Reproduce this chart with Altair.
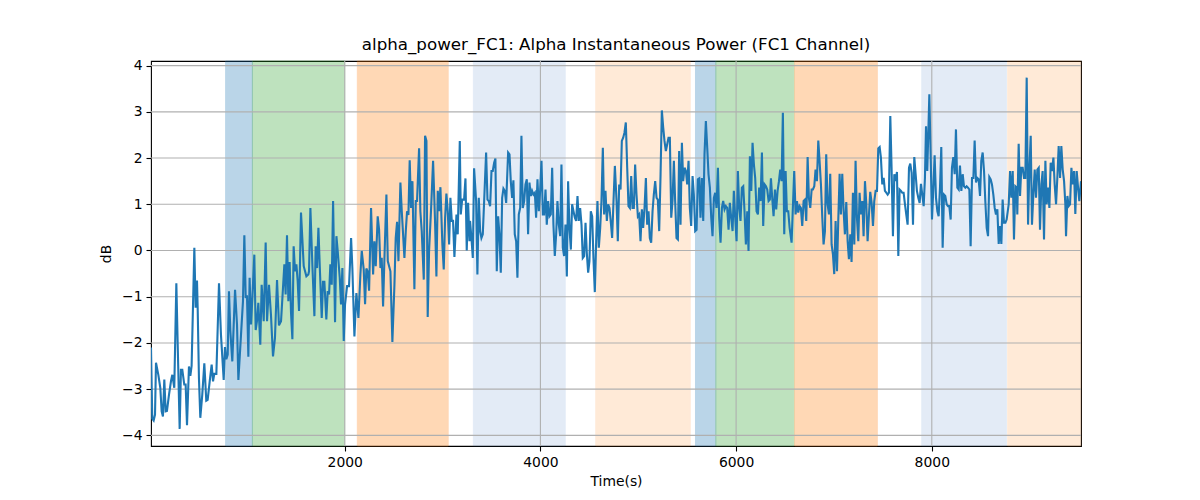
import altair as alt
import pandas as pd

# ---------------- data ----------------
t_seg1 = [20,33,47,61,71,95,115,129,142,156,170,183,204,224,238,258,279,292,313,326,
          340,360,374,388,408,422,435,463,476,490,497,510,524,544,565,585,599,620,640,654,
          667,688,715,735,763,776,790,804,817,831,851,879,899,913,940,960,974,988,1001,1015,
          1028,1042,1056,1076,1090,1103,1117,1137,1151,1172,1192,1206,1226,1246,1267,1287,1308,1328,1349,1369,
          1383,1396,1410,1424,1437,1451,1465,1478,1492,1506,1519,1533,1553,1581,1608,1628]
v_seg1 = [-2.1,-3.64,-3.68,-3.55,-2.43,-2.69,-2.97,-3.48,-3.59,-2.79,
          -3.48,-3.47,-3.12,-2.83,-2.69,-2.97,-0.71,-1.96,-3.86,-2.58,
          -2.58,-2.90,-2.90,-3.78,-2.51,-2.71,-2.50,0.06,-1.24,-0.65,
          -1.24,-2.76,-3.62,-3.12,-2.44,-3.25,-3.23,-2.83,-2.47,-2.83,
          -2.67,-2.67,-0.71,-1.82,-2.80,-2.09,-2.35,-2.25,-0.88,-1.75,
          -2.40,-0.85,-1.60,-2.80,-1.82,-1.10,0.33,-1.03,-0.97,-2.30,
          -0.59,-1.60,-1.03,-0.09,-1.72,-1.53,-1.13,-2.04,-0.74,-1.53,
          0.17,-1.53,-0.74,-1.39,-2.29,-1.89,-0.64,-1.62,-1.53,-0.81,
          -0.30,-0.95,0.33,-1.10,-0.25,-1.34,-1.92,0.09,-0.45,-0.30,
          -0.66,-1.31,0.82,-0.34,-0.56,-0.52]

t_seg2 = [1635,1649,1669,1690,1703,1717,1731,1744,1765,1778,
          1792,1812,1826,1840,1853,1867,1881,1901,1915,1928,
          1949,1962,1976,1990,2003,2024,2044,2065,2078,2099,
          2119,2140,2160,2174,2194,2208,2221,2235,2249,2269,
          2290,2303,2317,2337,2351,2365,2378,2392,2405,2426,
          2440,2467,2487,2508,2521,2535,2549,2569,2583,2610,
          2624,2637,2651,2664,2678,2692,2712,2726,2739,2760,
          2773,2787,2808,2821,2835,2848,2862,2883,2903,2923,
          2937,2951,2964,2978,2998,3012,3026,3039,3053,3067,
          3080,3094,3107,3121,3142,3155,3176]
v_seg2 = [-0.45,0.92,-0.30,-1.42,0.09,-0.38,0.49,-0.30,-1.46,-0.68,
          -0.68,-1.49,-0.88,-0.95,-0.30,-0.74,1.07,-1.55,0.31,-0.01,
          -0.59,-1.17,-0.38,-1.96,-1.17,-0.77,-0.77,0.27,-0.38,-1.86,
          -0.92,-1.46,-0.52,-0.01,-0.41,-1.16,-0.39,-0.46,-0.87,0.92,
          -0.52,0.20,-0.34,0.74,0.45,-0.38,-0.16,-1.21,-0.23,1.21,
          -0.23,-0.45,-1.98,-0.74,0.27,0.62,-0.23,1.47,0.85,-0.16,
          0.42,0.85,0.77,1.95,0.92,1.50,-0.84,1.07,1.07,2.21,
          0.85,0.42,-0.63,2.48,2.37,-1.44,-0.01,0.92,1.94,0.64,
          -0.56,1.29,0.85,1.37,0.13,-0.41,0.71,1.23,0.85,0.13,
          1.14,0.64,0.64,-0.14,0.78,0.35,2.37]

t_seg3 = [3186,3200,3220,3234,3247,3261,3275,3281,3295,3309,
          3322,3343,3356,3370,3384,3397,3411,3425,3445,3459,
          3472,3486,3500,3513,3527,3540,3554,3568,3581,3595,
          3609,3622,3636,3650,3670,3684,3697,3711,3724,3738,
          3752,3765,3779,3793,3806,3820,3834,3847,3861,3874,
          3888,3902,3915,3929,3943,3956,3970,3984,3997,4011,
          4025,4038,4052,4065,4079,4093,4106,4120,4133,4147,
          4161,4174,4188,4202,4215,4229,4242,4256,4270,4283,
          4297,4311,4324,4338,4352,4365,4379,4392,4406,4420,
          4433,4447,4461,4474,4488,4501,4515,4529,4542,4556,
          4570,4583,4597,4611,4624,4638,4651,4665,4679,4692,
          4706,4720,4733,4747,4761]
v_seg3 = [0.78,1.10,1.10,1.56,0.00,1.03,0.20,0.64,0.27,-0.16,
          1.78,1.07,-0.52,1.14,0.42,0.27,0.35,1.07,2.12,1.10,
          1.07,0.96,1.72,1.72,1.90,1.99,-0.45,0.74,0.35,-0.48,
          1.14,1.34,1.29,1.03,2.12,2.08,1.50,1.14,1.52,0.35,
          0.20,-0.59,0.78,0.92,2.48,0.92,1.07,1.43,1.54,0.35,
          1.47,1.18,1.29,1.21,1.25,0.71,1.54,0.85,1.29,1.94,
          0.78,0.78,1.32,0.56,1.07,0.74,0.78,1.79,0.56,-0.12,
          0.35,1.07,0.56,0.31,1.86,0.06,-0.12,0.56,-0.56,1.50,
          0.49,0.02,1.00,0.85,0.71,0.64,1.18,0.64,0.92,0.56,
          -0.16,-0.12,0.60,-0.05,-0.48,-0.23,0.85,0.74,-0.16,-0.90,
          0.20,1.07,0.06,0.49,1.07,2.22,0.78,1.29,0.64,1.00,
          0.92,0.60,0.27,1.07,1.83]

t_seg4 = [4778,4791,4805,4819,4832,4846,4859,4873,4887,4900,
          4914,4928,4941,4955,4968,4982,4996,5009,5023,5037,
          5050,5064,5078,5091,5105,5118,5132,5146,5159,5173,
          5187,5200,5214,5228,5241,5255,5268,5282,5296,5309,
          5323,5337,5350,5364,5377,5391,5405,5418,5432,5446,
          5459,5473,5487,5500,5514,5527,5541,5555,5568,5582,
          5596,5609,5623,5636,5650,5664,5677,5691,5705,5718,
          5732,5746,5759,5773,5786,5800,5814,5827,5841,5855,
          5868,5882,5895,5909,5923,5936,5950,5964,5977,5991,
          6005,6018,6032,6045,6059,6073,6086,6100,6114,6127,
          6141,6155,6168,6182,6195,6209,6223,6236,6250,6264,
          6277,6291,6305,6318,6332,6345]
v_seg4 = [1.07,0.20,1.43,1.32,2.37,2.44,2.55,2.77,1.79,0.96,
          0.92,1.61,0.92,0.92,1.86,1.21,0.74,0.78,0.20,0.89,
          0.49,0.92,1.57,0.56,0.85,0.27,0.17,0.85,1.21,1.50,
          1.14,1.10,0.42,1.65,3.03,2.66,2.37,2.15,2.30,2.44,
          2.44,0.71,1.07,1.94,1.07,0.27,0.24,2.15,0.56,2.33,
          1.50,1.79,1.72,1.43,1.94,0.92,0.53,1.61,1.21,0.42,
          0.45,1.54,1.56,0.71,1.57,0.64,2.08,2.80,2.22,1.65,
          1.36,0.71,0.31,1.14,1.25,0.92,1.79,0.71,0.17,0.92,
          1.07,0.89,0.96,0.92,0.45,1.03,0.71,0.42,1.29,0.71,
          0.20,1.72,0.92,0.64,1.36,1.39,0.85,0.13,0.85,-0.01,
          2.04,1.29,2.33,1.86,1.57,0.85,0.78,1.36,1.07,2.12,
          0.53,1.43,1.39,1.32,1.07,1.10]

t_seg5 = [6356,6369,6383,6397,6410,6424,6438,6451,6465,6478,
          6492,6506,6519,6533,6547,6567,6594,6608,6622,6635,
          6649,6662,6676,6690,6703,6717,6731,6744,6758,6772,
          6785,6799,6812,6826,6840,6853,6867,6881,6894,6908,
          6921,6935,6949,6962,6976,6990,7003,7017,7031,7044,
          7058,7071,7085,7099,7112,7126,7140,7153,7167,7180,
          7194,7208,7221,7235,7249,7262,7276,7290,7303,7317,
          7330,7344,7358,7371,7385,7399,7412,7426,7440,7453,
          7467,7480,7494,7508,7521,7535,7549,7562,7576,7589,
          7603,7617,7630,7644,7658,7671,7685,7698,7712,7726,
          7739,7753,7767,7780,7794,7808,7821,7835,7848,7862,
          7876,7889,7903,7917,7930]
v_seg5 = [1.56,1.14,0.74,1.32,0.89,1.29,1.50,1.75,1.50,2.98,
          0.35,1.72,0.85,0.85,0.49,0.17,1.72,0.78,1.07,0.82,
          0.96,0.92,0.53,1.07,1.10,0.64,2.02,1.14,0.92,1.32,
          1.32,1.39,1.75,1.50,2.38,1.94,1.43,0.71,0.13,0.42,
          2.08,1.00,0.78,1.66,0.13,-0.09,-0.51,0.64,-0.45,0.64,
          1.66,0.78,1.66,0.85,0.35,1.05,0.20,-0.19,0.35,-0.25,
          1.25,0.13,1.94,0.71,0.20,1.25,0.78,1.07,0.31,1.50,
          1.03,0.20,0.78,1.27,1.03,0.53,1.07,1.29,1.29,2.21,
          2.24,2.01,1.43,1.57,1.29,1.25,1.21,1.25,2.91,1.79,
          0.31,1.65,1.50,1.70,-0.12,1.32,1.29,1.25,1.25,1.00,
          0.78,0.56,1.79,1.88,1.68,0.56,2.02,1.65,1.29,1.14,
          1.03,1.44,1.21,0.96,1.57]

t_seg6 = [7941,7954,7975,7988,8002,8016,8029,8043,8057,8070,
          8084,8097,8111,8125,8138,8152,8166,8179,8193,8206,
          8220,8234,8247,8261,8275,8288,8302,8316,8329,8343,
          8356,8370,8384,8397,8411,8425,8438,8452,8465,8479,
          8493,8506,8520,8534,8547,8561,8575,8588,8602,8615,
          8629,8643,8656,8670,8684,8697,8711,8724,8738,8752,
          8765,8786,8800,8813,8827,8840,8854,8868,8874,8888,
          8902,8915,8929,8943,8956,8970,8984,8997,9011,9024,
          9038,9052,9065,9079,9093,9106,9120,9133,9147,9161,
          9174,9188,9202,9215,9229,9243,9256,9270,9283,9297,
          9311,9324,9338,9352,9365,9372,9386,9399,9413,9427,
          9440,9454,9467,9481,9495,9508,9525]
v_seg6 = [2.69,1.72,3.38,2.08,0.67,1.36,2.06,1.14,0.85,0.74,
          1.36,2.24,0.06,1.21,1.18,1.00,0.96,0.96,0.67,1.79,
          2.02,1.65,2.62,1.36,1.32,1.84,1.29,1.65,1.39,1.36,
          1.39,1.36,1.32,0.09,1.57,1.57,2.38,1.47,1.57,1.54,
          1.18,1.94,2.12,1.72,1.07,0.49,0.31,1.59,1.54,1.43,
          1.21,0.92,0.78,0.89,0.14,0.53,0.14,1.10,0.60,0.60,
          0.67,1.00,1.72,1.14,1.72,0.24,1.39,1.36,0.78,2.31,
          1.18,1.79,1.79,1.57,1.57,3.74,0.56,1.72,2.48,0.56,
          1.21,1.75,1.14,1.75,1.79,0.45,1.43,1.72,0.24,1.94,
          1.00,1.36,0.92,1.90,1.72,2.01,1.43,1.00,1.57,2.26,
          1.57,2.26,1.75,1.50,1.00,0.31,1.18,0.96,1.00,1.79,
          1.43,1.72,0.79,1.72,1.36,1.07,1.50]

# shaded task periods
span_start = [783, 1056, 2129, 3315, 4566, 5585, 5793, 6598, 7898, 8776]
span_end   = [1056, 2000, 3057, 4253, 5531, 5793, 6591, 7443, 8762, 9525]
span_color = ["#1f77b4", "#2ca02c", "#ff7f0e", "#1f62bc", "#ff7f0e",
              "#1f77b4", "#2ca02c", "#ff7f0e", "#1f62bc", "#ff7f0e"]
span_alpha = [0.3, 0.3, 0.3, 0.12, 0.16, 0.3, 0.3, 0.3, 0.12, 0.16]

x_ticks = [2000, 4000, 6000, 8000]
y_ticks = [-4, -3, -2, -1, 0, 1, 2, 3, 4]
x_domain = [20, 9525]
y_domain = [-4.23, 4.1]

TITLE = "alpha_power_FC1: Alpha Instantaneous Power (FC1 Channel)"
FONT = "DejaVu Sans"

# ---------------- build tables ----------------
times = t_seg1 + t_seg2 + t_seg3 + t_seg4 + t_seg5 + t_seg6
vals = v_seg1 + v_seg2 + v_seg3 + v_seg4 + v_seg5 + v_seg6
line_df = pd.DataFrame({"t": times, "v": vals})
span_df = pd.DataFrame({"start": span_start, "end": span_end,
                        "c": span_color, "a": span_alpha})
xgrid_df = pd.DataFrame({"t": x_ticks})
ygrid_df = pd.DataFrame({"v": y_ticks})

W, H = 930, 385
xs = alt.Scale(domain=x_domain, nice=False, zero=False)
ys = alt.Scale(domain=y_domain, nice=False, zero=False)

axis_common = dict(grid=False, domain=False, tickColor="black", tickSize=5,
                   tickWidth=1.1, labelColor="black", labelFontSize=13.9,
                   labelFont=FONT, titleFont=FONT, titleFontSize=13.9,
                   titleFontWeight="normal", titleColor="black", labelPadding=4)
x_axis = alt.Axis(values=x_ticks, format="d", title="Time(s)", titlePadding=6, **axis_common)
y_axis = alt.Axis(values=y_ticks, format="d", title="dB", titlePadding=8, **axis_common)

spans = alt.Chart(span_df).mark_rect(strokeWidth=1).encode(
    x=alt.X("start:Q", scale=xs, axis=x_axis),
    x2="end:Q",
    y=alt.value(0),
    y2=alt.value(H),
    fill=alt.Color("c:N", scale=None, legend=None),
    stroke=alt.Color("c:N", scale=None, legend=None),
    opacity=alt.Opacity("a:Q", scale=None, legend=None),
)

xgrid = alt.Chart(xgrid_df).mark_rule(color="#b0b0b0", strokeWidth=1.1).encode(
    x=alt.X("t:Q", scale=xs, axis=x_axis)
)
ygrid = alt.Chart(ygrid_df).mark_rule(color="#b0b0b0", strokeWidth=1.1).encode(
    y=alt.Y("v:Q", scale=ys, axis=y_axis)
)

line = alt.Chart(line_df).mark_line(color="#1f77b4", strokeWidth=2.1, clip=True).encode(
    x=alt.X("t:Q", scale=xs, axis=x_axis),
    y=alt.Y("v:Q", scale=ys, axis=y_axis),
    order="t:Q",
)

chart = alt.layer(spans, xgrid, ygrid, line).properties(
    width=W, height=H,
    title=alt.TitleParams(TITLE, font=FONT, fontSize=16.7, fontWeight="normal",
                          color="black", anchor="middle", offset=5),
    autosize=alt.AutoSizeParams(type="none"),
    padding={"left": 143, "top": 53, "right": 100, "bottom": 50},
).configure(
    background="white",
    view=alt.ViewConfig(stroke="black", strokeWidth=1.1),
)

chart.save("out.html", embed_options={"renderer": "svg", "actions": False})
